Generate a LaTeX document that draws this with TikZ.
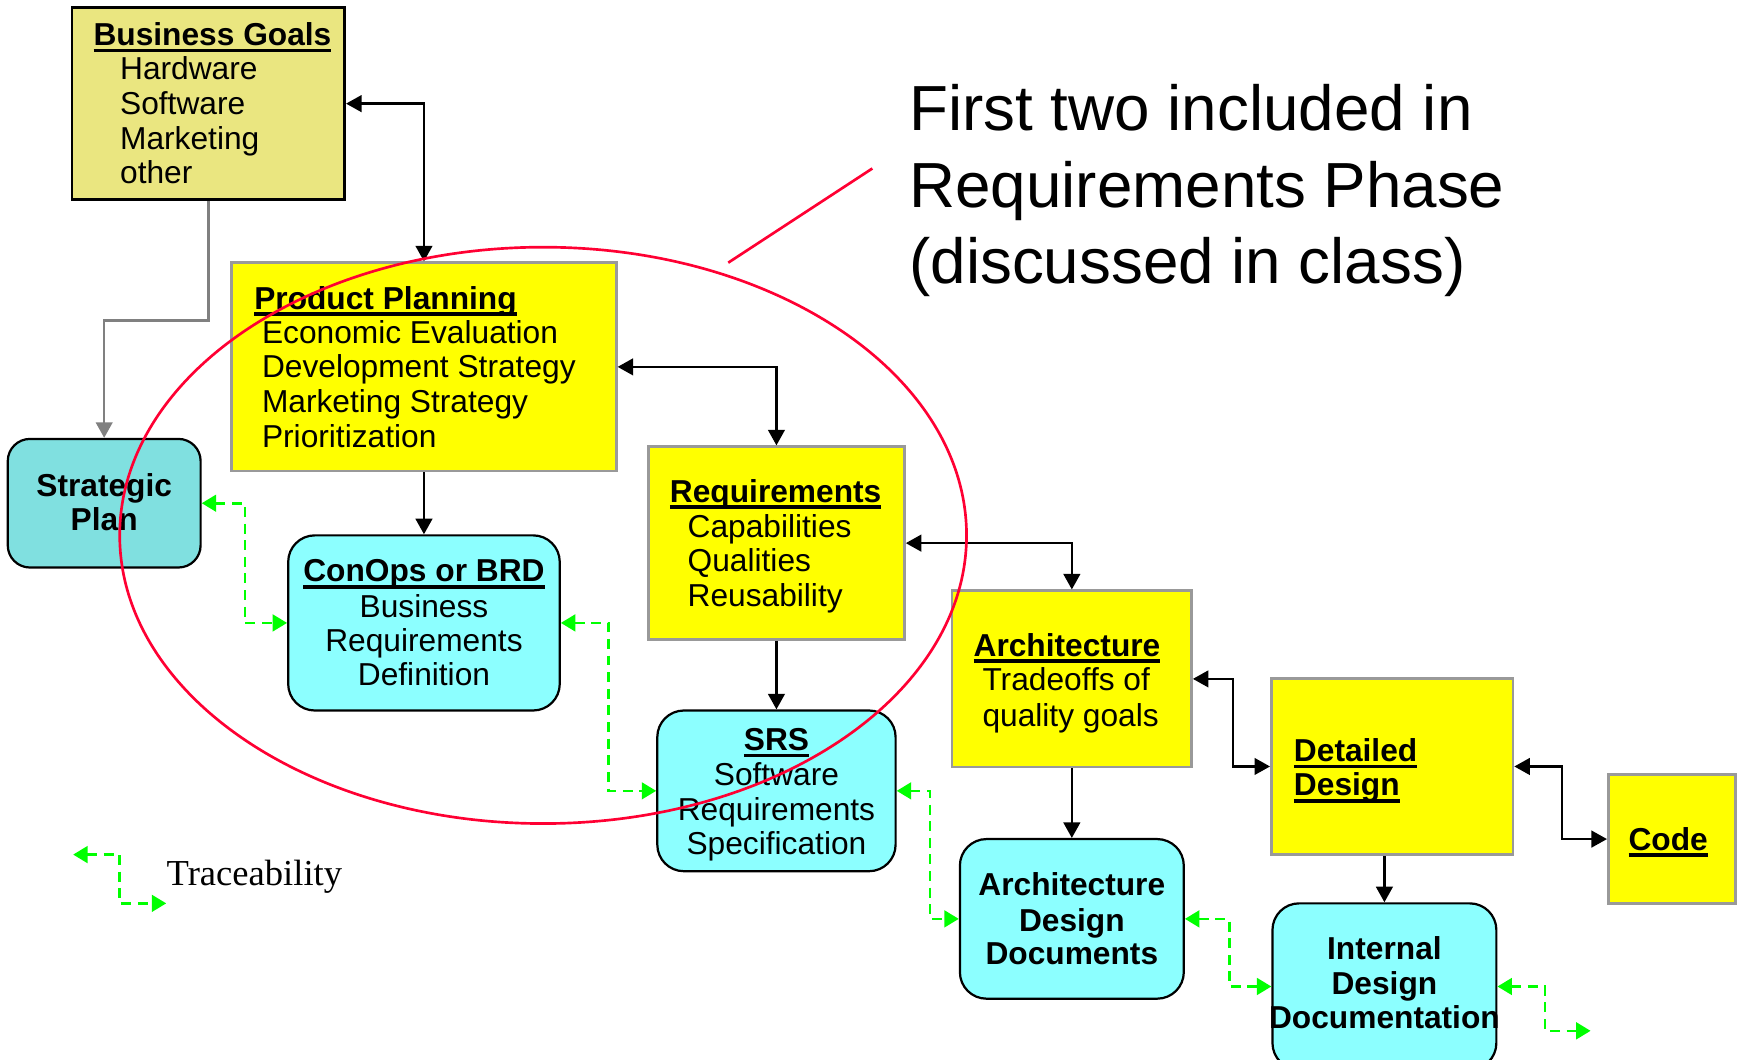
\documentclass[tikz,border=0pt]{standalone}
\usepackage{fontspec}
\setmainfont{Liberation Sans}
\newfontfamily\serifx{Liberation Serif}
\usetikzlibrary{arrows.meta,calc}
\definecolor{ybg}{RGB}{234,230,128}
\definecolor{yel}{RGB}{255,255,0}
\definecolor{cyd}{RGB}{128,224,224}
\definecolor{cyl}{RGB}{140,255,255}
\definecolor{bordergray}{RGB}{153,153,153}
\definecolor{lgray}{RGB}{128,128,128}
\definecolor{tgreen}{RGB}{0,255,0}
\definecolor{ered}{RGB}{255,0,51}
\newcommand{\myul}[1]{\setbox0\hbox{#1}\rlap{\rule[-0.21em]{\wd0}{0.11em}}\box0}
\begin{document}
\begin{tikzpicture}[x=0.5pt,y=-0.5pt,
  ybox/.style={draw=bordergray, fill=yel, line width=1.2pt, inner sep=0pt},
  bgbox/.style={draw=black, fill=ybg, line width=1.2pt, inner sep=0pt},
  cbox/.style={draw=black, fill=cyl, line width=1pt, rounded corners=12pt, inner sep=0pt},
  txt/.style={inner sep=0pt, font=\fontsize{14.3}{15.5}\selectfont},
  big/.style={inner sep=0pt, anchor=base west, font=\fontsize{28.75}{34.5}\selectfont},
  arr/.style={draw=black, line width=1.05pt, -{Triangle[length=7pt,width=7.5pt]}},
  darr/.style={draw=black, line width=1.05pt, {Triangle[length=7pt,width=7.5pt]}-{Triangle[length=7pt,width=7.5pt]}},
  garr/.style={draw=lgray, line width=1.05pt, -{Triangle[length=7pt,width=7.5pt]}},
  trace/.style={draw=tgreen, line width=1.2pt, dash pattern=on 4.5pt off 3pt, {Triangle[length=6.5pt,width=7.5pt]}-{Triangle[length=6.5pt,width=7.5pt]}}
]
\useasboundingbox (0,0) rectangle (1568,956);

% boxes
\node[bgbox, minimum width=123pt, minimum height=86.5pt] (bg) at (188,93.5) {};
\node[ybox, minimum width=173.5pt, minimum height=94pt] (pp) at (382.5,331) {};
\node[cbox, fill=cyd, rounded corners=10pt, minimum width=87pt, minimum height=58pt] (sp) at (94,454) {};
\node[cbox, minimum width=122.5pt, minimum height=79pt] (con) at (382.5,562) {};
\node[ybox, minimum width=115.5pt, minimum height=87pt] (req) at (700.5,490) {};
\node[cbox, minimum width=107.5pt, minimum height=72.5pt] (srs) at (700.5,713.5) {};
\node[ybox, minimum width=108pt, minimum height=79.5pt] (arch) at (967,612.5) {};
\node[cbox, minimum width=101pt, minimum height=72pt] (add) at (967,829) {};
\node[ybox, minimum width=109pt, minimum height=79.5pt] (dd) at (1256,691.5) {};
\node[ybox, minimum width=57.5pt, minimum height=58pt] (code) at (1508.5,757) {};
\node[cbox, minimum width=101pt, minimum height=75pt] (idd) at (1249,890) {};

% texts
\node[txt, anchor=base west] (bgt0) at (84,41) {\textbf{\myul{Business Goals}}};
\node[txt, anchor=base west] (bgt1) at (108,72) {Hardware};
\node[txt, anchor=base west] (bgt2) at (108,103) {Software};
\node[txt, anchor=base west] (bgt3) at (108,135) {Marketing};
\node[txt, anchor=base west] (bgt4) at (108,166) {other};

\node[txt, anchor=base west] (ppt0) at (229,279) {\textbf{\myul{Product Planning}}};
\node[txt, anchor=base west] (ppt1) at (236,310) {Economic Evaluation};
\node[txt, anchor=base west] (ppt2) at (236,341) {Development Strategy};
\node[txt, anchor=base west] (ppt3) at (236,372) {Marketing Strategy};
\node[txt, anchor=base west] (ppt4) at (236,404) {Prioritization};

\node[txt, anchor=base] (spt1) at (94,448) {\textbf{Strategic}};
\node[txt, anchor=base] (spt2) at (94,479) {\textbf{Plan}};

\node[txt, anchor=base] (cont0) at (382.5,525) {\textbf{\myul{ConOps or BRD}}};
\node[txt, anchor=base] (cont1) at (382.5,557) {Business};
\node[txt, anchor=base] (cont2) at (382.5,588) {Requirements};
\node[txt, anchor=base] (cont3) at (382.5,618) {Definition};

\node[txt, anchor=base west] (reqt0) at (604,453) {\textbf{\myul{Requirements}}};
\node[txt, anchor=base west] (reqt1) at (620,485) {Capabilities};
\node[txt, anchor=base west] (reqt2) at (620,516) {Qualities};
\node[txt, anchor=base west] (reqt3) at (620,547) {Reusability};

\node[txt, anchor=base] (srst0) at (700.5,677) {\textbf{\myul{SRS}}};
\node[txt, anchor=base] (srst1) at (700.5,709) {Software};
\node[txt, anchor=base] (srst2) at (700.5,740) {Requirements};
\node[txt, anchor=base] (srst3) at (700.5,771) {Specification};

\node[txt, anchor=base west] (archt0) at (878,592) {\textbf{\myul{Architecture}}};
\node[txt, anchor=base west] (archt1) at (886,623) {Tradeoffs of};
\node[txt, anchor=base west] (archt2) at (886,655) {quality goals};

\node[txt, anchor=base] (addt1) at (967,808) {\textbf{Architecture}};
\node[txt, anchor=base] (addt2) at (967,840) {\textbf{Design}};
\node[txt, anchor=base] (addt3) at (967,870) {\textbf{Documents}};

\node[txt, anchor=base west] (ddt1) at (1167,687) {\textbf{\myul{Detailed}}};
\node[txt, anchor=base west] (ddt2) at (1167,718) {\textbf{\myul{Design}}};

\node[txt, anchor=base] (codet) at (1505,767) {\textbf{\myul{Code}}};

\node[txt, anchor=base] (iddt1) at (1249,866) {\textbf{Internal}};
\node[txt, anchor=base] (iddt2) at (1249,897) {\textbf{Design}};
\node[txt, anchor=base] (iddt3) at (1249,928) {\textbf{Documentation}};

\node[big] (h1) at (820,118) {First two included in};
\node[big] (h2) at (820,187) {Requirements Phase};
\node[big] (h3) at (820,256) {(discussed in class)};

\node[inner sep=0pt, anchor=base west, font=\serifx\fontsize{16.5}{20}\selectfont] (legt) at (150,799) {Traceability};

% black connectors
\draw[darr] (bg.east) -| (pp.north);
\draw[arr] (pp.south) -- (con.north);
\draw[darr] (pp.east) -| (req.north);
\draw[arr] (req.south) -- (srs.north);
\draw[darr] (req.east) -| (arch.north);
\draw[arr] (arch.south) -- (add.north);
\draw[darr] (arch.east) -- ++(36,0) |- (dd.west);
\draw[darr] (dd.east) -- ++(43,0) |- (code.west);
\draw[arr] (idd.north |- dd.south) -- (idd.north);
\draw[garr] (bg.south) -- ++(0,108) -| (sp.north);

% traceability
\draw[trace] (sp.east) -- ++(39,0) |- (con.west);
\draw[trace] (con.east) -- ++(43,0) |- (srs.west);
\draw[trace] (srs.east) -- ++(30,0) |- (add.west);
\draw[trace] (add.east) -- ++(40,0) |- (idd.west);
\coordinate (tend) at (1435,930);
\draw[trace] (idd.east) -- ++(43,0) |- (tend);
\coordinate (lga) at (66,771);
\coordinate (lgb) at (150,815);
\draw[trace] (lga) -- ++(42,0) |- (lgb);

% red ellipse and pointer
\draw[ered, line width=1.2pt] (490,483) ellipse [x radius=382, y radius=260];
\draw[ered, line width=1.2pt] (657,237) -- (787,152);
\end{tikzpicture}
\end{document}
